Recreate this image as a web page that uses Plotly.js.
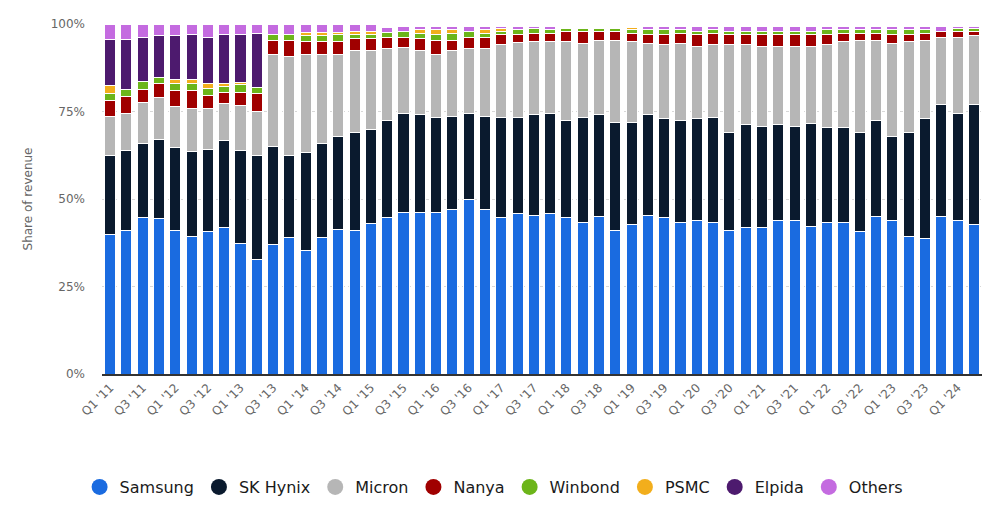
<!DOCTYPE html>
<html>
<head>
<meta charset="utf-8">
<script src="https://cdn.plot.ly/plotly-3.0.1.min.js"></script>
<style>html,body{margin:0;padding:0;background:#fff}#chart{width:1000px;height:525px}</style>
</head>
<body>
<div id="chart"></div>
<script>
const quarters = ["Q1 '11","Q2 '11","Q3 '11","Q4 '11","Q1 '12","Q2 '12","Q3 '12","Q4 '12","Q1 '13","Q2 '13","Q3 '13","Q4 '13","Q1 '14","Q2 '14","Q3 '14","Q4 '14","Q1 '15","Q2 '15","Q3 '15","Q4 '15","Q1 '16","Q2 '16","Q3 '16","Q4 '16","Q1 '17","Q2 '17","Q3 '17","Q4 '17","Q1 '18","Q2 '18","Q3 '18","Q4 '18","Q1 '19","Q2 '19","Q3 '19","Q4 '19","Q1 '20","Q2 '20","Q3 '20","Q4 '20","Q1 '21","Q2 '21","Q3 '21","Q4 '21","Q1 '22","Q2 '22","Q3 '22","Q4 '22","Q1 '23","Q2 '23","Q3 '23","Q4 '23","Q1 '24","Q2 '24"];
const tickLabels = ["Q1 '11","Q3 '11","Q1 '12","Q3 '12","Q1 '13","Q3 '13","Q1 '14","Q3 '14","Q1 '15","Q3 '15","Q1 '16","Q3 '16","Q1 '17","Q3 '17","Q1 '18","Q3 '18","Q1 '19","Q3 '19","Q1 '20","Q3 '20","Q1 '21","Q3 '21","Q1 '22","Q3 '22","Q1 '23","Q3 '23","Q1 '24"];
const yTicks = [0, 25, 50, 75, 100];
const yTickText = ["0%", "25%", "50%", "75%", "100%"];

const samsung = [40,41,44.7,44.3,41,39.4,40.7,41.8,37.3,32.6,36.9,39,35.3,39,41.4,41,43,44.7,46.2,46.2,46.2,47,49.9,47,44.7,45.8,45.4,45.8,44.7,43.4,45,41,42.6,45.4,44.7,43.4,43.8,43.4,41,41.8,41.8,43.8,43.8,42.2,43.4,43.4,40.6,45,43.8,39.3,38.7,45,43.8,42.6];
const skHynix = [22.3,23,21.3,22.8,23.8,24.2,23.4,25,26.7,29.8,28.2,23.4,27.9,27,26.5,28.1,27,27.8,28.3,27.9,27,26.7,24.6,26.7,28.5,27.4,28.8,28.7,27.8,29.8,29.2,31,29.4,28.8,28.2,29.1,29.1,29.8,28.1,29.4,29,27.4,27,29.4,27,27,28.5,27.5,24.2,29.8,34.2,31.9,30.7,34.3];
const micron = [11.2,10.3,11.5,12,11.6,12.3,11.8,10.4,12.8,12.7,26.1,28.3,28,25.2,23.3,23.4,22.5,20.5,18.8,18.4,18,18.8,18.5,19.3,20.9,21.4,20.8,20.5,22.4,21.3,21.1,23.3,23,20.3,21.2,22,20.8,20.9,25,22.9,22.9,22.5,22.9,22.1,23.7,24.6,26.2,22.8,26.5,25.9,22.4,19.3,21.7,19.8];
const nanya = [4.6,5,3.7,3.8,4.5,5,3.8,3.3,3.7,5,4.2,4.7,3.8,3.8,3.8,3.3,3.3,3.2,2.9,3.3,4.2,2.9,3.2,3.2,3,2.5,2.4,2.4,3,3.4,2.6,2.6,2.4,2.6,3,2.9,3.4,3.3,3,3,3.4,3.4,3.4,3.4,3,2.4,2.1,2.1,2.6,2.1,2.1,1.7,1.7,1.2];
const winbond = [2,1.9,2.4,1.8,2,2,2,1.6,2.1,1.7,1.7,1.7,1.6,1.6,1.9,1.3,1.3,1.3,1.6,1.5,1.7,1.9,1.6,1.1,0.8,1.2,1.2,1,0.9,0.9,0.9,0.9,1,1.2,1.2,1,0.9,0.9,0.9,0.9,0.9,0.9,0.9,0.9,1.2,0.9,0.9,0.9,1.2,1.2,0.9,0,0.8,0.8];
const psmc = [2.3,0,0,0,1.2,1.2,1.2,1,0.6,0,0,0,0.9,0.9,0.8,0.9,0.9,0,0,1,1.2,1,0,1,0.8,0,0,0,0,0,0,0,0.7,0,0,0,0,0,0,0,0,0,0,0,0,0,0,0,0,0,0,0,0,0];
const elpida = [13.3,14.5,12.6,11.9,12.5,13,13.3,14,13.9,15.5,0,0,0,0,0,0,0,0,0,0,0,0,0,0,0,0,0,0,0,0,0,0,0,0,0,0,0,0,0,0,0,0,0,0,0,0,0,0,0,0,0,0,0,0];
const others = [4.3,4.3,3.8,3.4,3.4,2.9,3.8,2.9,2.9,2.7,2.9,2.9,2.5,2.5,2.3,2,2,1.6,1.6,1.1,1.1,1.1,1.6,1.1,0.7,1.1,0.8,1,0,0,0,0,0,1.1,1.1,1,1.4,1.1,1.4,1.4,1.4,1.4,1.4,1.4,1.1,1.1,1.1,1.1,1.1,1.1,1.1,1.5,0.7,0.7];

const seriesNames = ["Samsung","SK Hynix","Micron","Nanya","Winbond","PSMC","Elpida","Others"];
const seriesValues = [samsung, skHynix, micron, nanya, winbond, psmc, elpida, others];
const seriesColors = ["#1a6be0","#0a1a2e","#b6b6b6","#a00000","#6cb51a","#f2ae1c","#4d1a6e","#c46be0"];

const traces = [];
seriesNames.forEach((name, i) => {
  traces.push({
    type: 'bar', name: name, x: quarters, y: seriesValues[i],
    marker: {color: seriesColors[i], line: {color: '#ffffff', width: 1}},
    showlegend: false, legendgroup: name,
    hovertemplate: '%{x}: %{y}%<extra>' + name + '</extra>'
  });
});
seriesNames.forEach((name, i) => {
  traces.push({
    type: 'scatter', mode: 'markers', name: name, x: [null], y: [null],
    marker: {color: seriesColors[i], size: 17, symbol: 'circle'},
    showlegend: true, legendgroup: name, hoverinfo: 'skip'
  });
});

const layout = {
  width: 1000, height: 525,
  margin: {l: 102, r: 18, t: 24, b: 151},
  paper_bgcolor: '#ffffff', plot_bgcolor: '#ffffff',
  barmode: 'stack', bargap: 0.32,
  font: {family: 'DejaVu Sans, Arial, sans-serif', color: '#666'},
  xaxis: {
    type: 'category', range: [-0.5, quarters.length - 0.5],
    tickmode: 'array', tickvals: tickLabels, ticktext: tickLabels,
    tickangle: -45, tickfont: {size: 12, color: '#666'},
    showgrid: false, showline: true, linecolor: '#333', linewidth: 2,
    ticks: '', zeroline: false, automargin: false
  },
  yaxis: {
    range: [0, 100], tickmode: 'array', tickvals: yTicks, ticktext: yTickText,
    tickfont: {size: 12, color: '#666'}, ticklabelstandoff: 16,
    showgrid: true, gridcolor: '#d8d8d8', griddash: 'dot', gridwidth: 1,
    zeroline: false, showline: false, ticks: '', automargin: false,
    title: {text: 'Share of revenue', font: {size: 12, color: '#666'}, standoff: 15}
  },
  legend: {
    orientation: 'h', x: 0.445, xanchor: 'center', y: -0.323, yanchor: 'middle',
    font: {size: 16, color: '#1a1a1a'}, itemsizing: 'trace', traceorder: 'normal'
  },
  showlegend: true
};

Plotly.newPlot('chart', traces, layout, {displayModeBar: false, staticPlot: true});
</script>
</body>
</html>
